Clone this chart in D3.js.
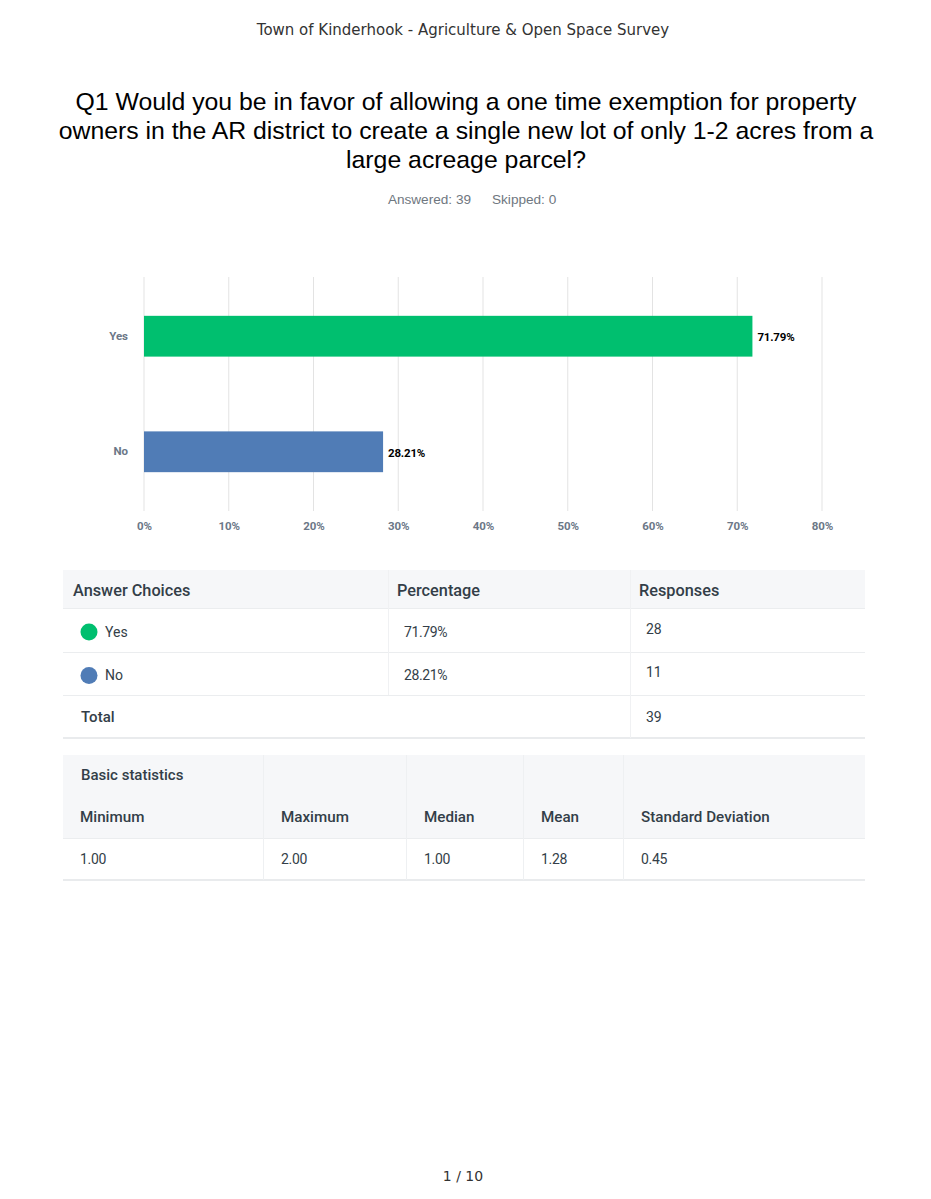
<!DOCTYPE html>
<html>
<head>
<meta charset="utf-8">
<script src="https://cdn.jsdelivr.net/npm/d3@7"></script>
<style>
  html, body { margin: 0; padding: 0; background: #fff; }
  svg { display: block; }
  .tbl { font-family: Roboto, "Noto Sans", sans-serif; fill: #333e48; }
</style>
</head>
<body>
<div id="page"></div>
<script>
// survey values
const surveyTitle = 'Town of Kinderhook - Agriculture & Open Space Survey';
const questionLines = [
  'Q1 Would you be in favor of allowing a one time exemption for property',
  'owners in the AR district to create a single new lot of only 1-2 acres from a',
  'large acreage parcel?'
];
const answered = 39;
const skipped = 0;
const categories = ['Yes', 'No'];
const percentages = [71.79, 28.21];
const responses = [28, 11];
const barColors = ['#00bf6f', '#507cb6'];
const tickValues = [0, 10, 20, 30, 40, 50, 60, 70, 80];
const statLabels = ['Minimum', 'Maximum', 'Median', 'Mean', 'Standard Deviation'];
const statValues = ['1.00', '2.00', '1.00', '1.28', '0.45'];
const pageLabel = '1 / 10';

const W = 931, H = 1199;
const svg = d3.select('#page').append('svg')
    .attr('width', W)
    .attr('height', H);

// page header + question
svg.append('text')
    .attr('x', 463).attr('y', 35)
    .attr('text-anchor', 'middle')
    .attr('font-family', 'DejaVu Sans, sans-serif')
    .attr('font-size', 15)
    .attr('fill', '#333')
    .text(surveyTitle);

svg.selectAll('text.q')
    .data(questionLines)
    .enter()
    .append('text')
    .attr('class', 'q')
    .attr('x', 466)
    .attr('y', (d, i) => 110 + i * 29)
    .attr('text-anchor', 'middle')
    .attr('font-family', 'Liberation Sans, Arial, sans-serif')
    .attr('font-size', 24.8)
    .attr('fill', '#000')
    .text(d => d);

svg.append('text')
    .attr('x', 471).attr('y', 204)
    .attr('text-anchor', 'end')
    .attr('font-family', 'Liberation Sans, Arial, sans-serif')
    .attr('font-size', 13.6)
    .attr('fill', '#6f7780')
    .text(`Answered: ${answered}`);
svg.append('text')
    .attr('x', 492).attr('y', 204)
    .attr('font-family', 'Liberation Sans, Arial, sans-serif')
    .attr('font-size', 13.6)
    .attr('fill', '#6f7780')
    .text(`Skipped: ${skipped}`);

// bar chart
const chart = {left: 144, right: 822, top: 277, bottom: 511};
const x = d3.scaleLinear().domain([0, 80]).range([chart.left, chart.right]);
const y = d3.scaleBand().domain(categories)
    .range([chart.top, chart.bottom])
    .paddingInner(0.647).paddingOuter(0.336);

const g = svg.append('g');

g.append('g')
    .selectAll('line')
    .data(tickValues)
    .enter()
    .append('line')
    .attr('x1', d => x(d)).attr('x2', d => x(d))
    .attr('y1', chart.top).attr('y2', chart.bottom)
    .attr('stroke', '#e3e3e3')
    .attr('stroke-width', 1);

const xAxis = g.append('g')
    .attr('transform', `translate(0,${chart.bottom})`)
    .call(d3.axisBottom(x).tickValues(tickValues).tickFormat(d => d + '%').tickSize(0).tickPadding(11));
xAxis.select('.domain').remove();
xAxis.selectAll('text')
    .attr('font-family', 'Roboto, sans-serif')
    .attr('font-weight', 'bold')
    .attr('font-size', 11.5)
    .attr('fill', '#6b7787');

const yAxis = g.append('g')
    .attr('transform', `translate(${chart.left},0)`)
    .call(d3.axisLeft(y).tickSize(0).tickPadding(16));
yAxis.select('.domain').remove();
yAxis.selectAll('text')
    .attr('font-family', 'Roboto, sans-serif')
    .attr('font-weight', 'bold')
    .attr('font-size', 11.5)
    .attr('fill', '#6b7787');

g.selectAll('rect.bar')
    .data(percentages)
    .enter()
    .append('rect')
    .attr('class', 'bar')
    .attr('x', x(0))
    .attr('y', (d, i) => y(categories[i]))
    .attr('width', d => x(d) - x(0))
    .attr('height', y.bandwidth())
    .attr('fill', (d, i) => barColors[i]);

g.selectAll('text.val')
    .data(percentages)
    .enter()
    .append('text')
    .attr('class', 'val')
    .attr('x', d => x(d) + 5)
    .attr('y', (d, i) => y(categories[i]) + y.bandwidth() / 2 + 1)
    .attr('dy', '0.35em')
    .attr('font-family', 'Roboto, sans-serif')
    .attr('font-weight', 'bold')
    .attr('font-size', 11.5)
    .attr('letter-spacing', '-0.2')
    .attr('fill', '#000')
    .text(d => d.toFixed(2) + '%');

// answer table
const t1 = svg.append('g').attr('class', 'tbl');
const t1x = 63, t1w = 802;
const t1rows = [570, 608, 652, 695, 738];
t1.append('rect').attr('x', t1x).attr('y', t1rows[0]).attr('width', t1w).attr('height', t1rows[4] - t1rows[0])
    .attr('fill', '#fff');
t1.append('rect').attr('x', t1x).attr('y', t1rows[0]).attr('width', t1w).attr('height', t1rows[1] - t1rows[0])
    .attr('fill', '#f6f7f9');
t1.selectAll('line.h')
    .data(t1rows.slice(1, 4))
    .enter()
    .append('line')
    .attr('x1', t1x).attr('x2', t1x + t1w)
    .attr('y1', d => d + 0.5).attr('y2', d => d + 0.5)
    .attr('stroke', '#ebedef');
t1.append('line').attr('x1', t1x).attr('x2', t1x + t1w)
    .attr('y1', t1rows[4]).attr('y2', t1rows[4])
    .attr('stroke', '#e9ebed').attr('stroke-width', 2);
t1.append('line').attr('x1', 388.5).attr('x2', 388.5).attr('y1', t1rows[0]).attr('y2', t1rows[3])
    .attr('stroke', '#f0f1f3');
t1.append('line').attr('x1', 630.5).attr('x2', 630.5).attr('y1', t1rows[0]).attr('y2', t1rows[4])
    .attr('stroke', '#f0f1f3');

const headers = [['Answer Choices', 73], ['Percentage', 397], ['Responses', 639]];
t1.selectAll('text.hd')
    .data(headers)
    .enter()
    .append('text')
    .attr('x', d => d[1]).attr('y', 590)
    .attr('dy', '0.35em')
    .attr('font-size', 16.3)
    .attr('font-weight', 500)
    .text(d => d[0]);

categories.forEach((c, i) => {
  const cy = (t1rows[i + 1] + t1rows[i + 2]) / 2 + 2;
  t1.append('circle').attr('cx', 89).attr('cy', cy).attr('r', 8.5).attr('fill', barColors[i]);
  t1.append('text').attr('x', 105).attr('y', cy).attr('dy', '0.35em')
      .attr('font-size', 14).text(c);
  t1.append('text').attr('x', 404).attr('y', cy).attr('dy', '0.35em')
      .attr('font-size', 14).attr('letter-spacing', '-0.4').text(percentages[i].toFixed(2) + '%');
  t1.append('text').attr('x', 646).attr('y', cy - 3).attr('dy', '0.35em')
      .attr('font-size', 14).text(responses[i]);
});
t1.append('text').attr('x', 81).attr('y', 717).attr('dy', '0.35em')
    .attr('font-size', 15).attr('font-weight', 500).text('Total');
t1.append('text').attr('x', 646).attr('y', 717).attr('dy', '0.35em')
    .attr('font-size', 14).text(d3.sum(responses));

// basic statistics table
const t2 = svg.append('g').attr('class', 'tbl');
const t2top = 755, t2mid = 838, t2bot = 880;
const statCols = [62, 263, 406, 523, 623];
t2.append('rect').attr('x', t1x).attr('y', t2top).attr('width', t1w).attr('height', t2mid - t2top)
    .attr('fill', '#f6f7f9');
t2.append('line').attr('x1', t1x).attr('x2', t1x + t1w)
    .attr('y1', t2mid + 0.5).attr('y2', t2mid + 0.5).attr('stroke', '#ebedef');
t2.append('line').attr('x1', t1x).attr('x2', t1x + t1w)
    .attr('y1', t2bot).attr('y2', t2bot).attr('stroke', '#e9ebed').attr('stroke-width', 2);
t2.selectAll('line.v')
    .data(statCols.slice(1))
    .enter()
    .append('line')
    .attr('x1', d => d + 0.5).attr('x2', d => d + 0.5)
    .attr('y1', t2top).attr('y2', t2bot)
    .attr('stroke', '#eef0f2');
t2.append('text').attr('x', 81).attr('y', 775).attr('dy', '0.35em')
    .attr('font-size', 15).attr('font-weight', 500).text('Basic statistics');
t2.selectAll('text.sl')
    .data(statLabels)
    .enter()
    .append('text')
    .attr('x', (d, i) => statCols[i] + 18).attr('y', 817).attr('dy', '0.35em')
    .attr('font-size', 15.2).attr('font-weight', 500)
    .text(d => d);
t2.selectAll('text.sv')
    .data(statValues)
    .enter()
    .append('text')
    .attr('x', (d, i) => statCols[i] + 18).attr('y', 859).attr('dy', '0.35em')
    .attr('font-size', 14).attr('letter-spacing', '-0.3')
    .text(d => d);

// footer
svg.append('text')
    .attr('x', 463).attr('y', 1181)
    .attr('text-anchor', 'middle')
    .attr('font-family', 'DejaVu Sans, sans-serif')
    .attr('font-size', 14)
    .attr('fill', '#333')
    .text(pageLabel);
</script>
</body>
</html>
